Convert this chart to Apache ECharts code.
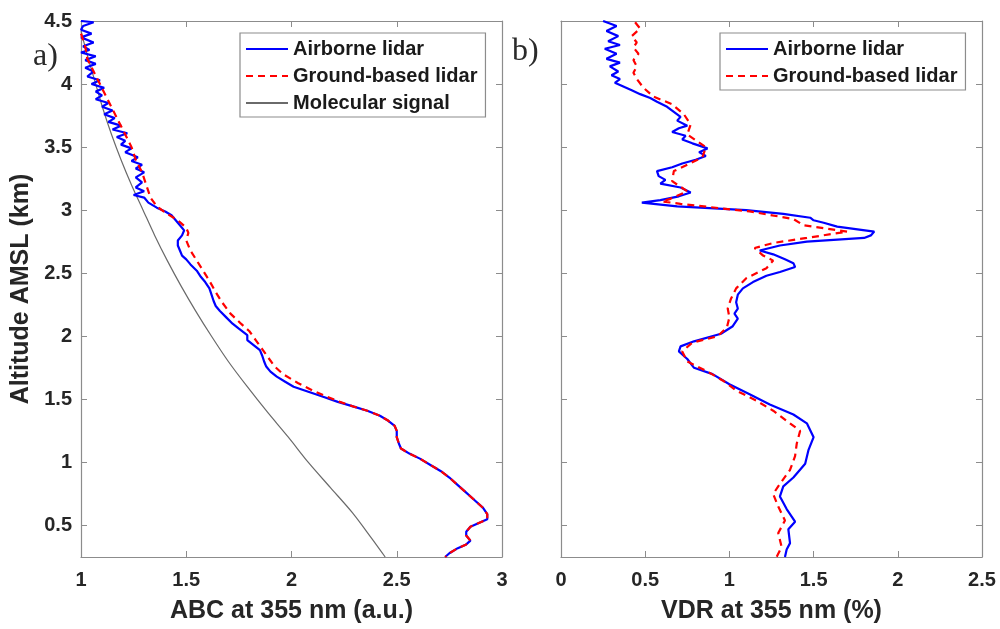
<!DOCTYPE html>
<html>
<head>
<meta charset="utf-8">
<script src="https://cdn.jsdelivr.net/npm/echarts@6/dist/echarts.min.js"></script>
<style>
html,body{margin:0;padding:0;background:#fff;}
#chart{width:1000px;height:629px;}
</style>
</head>
<body>
<div id="chart"></div>
<script>
// Altitude ticks (km)
const altTicks = [0.5, 1, 1.5, 2, 2.5, 3, 3.5, 4, 4.5];

// Panel a) ABC at 355 nm: [value, altitude]
const abcAirborne = [[1.00,4.50],[1.06,4.49],[1.01,4.46],[1.00,4.43],[1.05,4.40],[1.00,4.37],[1.06,4.33],[1.01,4.30],[1.04,4.27],[1.00,4.25],[1.07,4.22],[1.02,4.19],[1.07,4.16],[1.02,4.13],[1.06,4.10],[1.03,4.06],[1.09,4.03],[1.05,4.00],[1.11,3.97],[1.07,3.94],[1.10,3.91],[1.07,3.88],[1.13,3.85],[1.10,3.82],[1.15,3.79],[1.11,3.76],[1.16,3.73],[1.13,3.70],[1.19,3.67],[1.15,3.64],[1.22,3.61],[1.17,3.58],[1.21,3.55],[1.19,3.52],[1.24,3.49],[1.21,3.46],[1.27,3.42],[1.24,3.39],[1.29,3.36],[1.26,3.33],[1.30,3.30],[1.26,3.26],[1.29,3.22],[1.26,3.18],[1.30,3.15],[1.25,3.12],[1.30,3.10],[1.32,3.06],[1.36,3.02],[1.40,2.99],[1.43,2.96],[1.45,2.92],[1.47,2.88],[1.49,2.84],[1.48,2.80],[1.46,2.76],[1.46,2.72],[1.47,2.68],[1.48,2.64],[1.50,2.61],[1.52,2.57],[1.55,2.52],[1.57,2.47],[1.59,2.43],[1.61,2.38],[1.62,2.33],[1.63,2.28],[1.64,2.24],[1.66,2.20],[1.69,2.15],[1.72,2.10],[1.75,2.06],[1.79,2.01],[1.79,1.97],[1.82,1.93],[1.85,1.89],[1.86,1.85],[1.87,1.80],[1.88,1.76],[1.90,1.72],[1.93,1.68],[1.97,1.64],[2.01,1.60],[2.08,1.56],[2.15,1.52],[2.22,1.48],[2.30,1.44],[2.36,1.41],[2.42,1.37],[2.46,1.33],[2.49,1.29],[2.50,1.25],[2.50,1.20],[2.51,1.15],[2.52,1.11],[2.56,1.07],[2.61,1.03],[2.66,0.98],[2.71,0.93],[2.75,0.88],[2.79,0.82],[2.83,0.76],[2.87,0.70],[2.91,0.64],[2.93,0.59],[2.93,0.55],[2.89,0.52],[2.85,0.49],[2.83,0.45],[2.83,0.42],[2.85,0.38],[2.83,0.35],[2.79,0.32],[2.75,0.28],[2.73,0.25]];

const abcGround = [[1.00,4.40],[1.02,4.30],[1.03,4.20],[1.06,4.10],[1.09,4.00],[1.12,3.90],[1.15,3.80],[1.18,3.70],[1.21,3.60],[1.24,3.50],[1.26,3.40],[1.29,3.30],[1.31,3.20],[1.33,3.10],[1.36,3.03],[1.41,2.97],[1.46,2.92],[1.50,2.86],[1.51,2.82],[1.50,2.76],[1.52,2.68],[1.55,2.60],[1.58,2.52],[1.61,2.44],[1.64,2.35],[1.67,2.27],[1.71,2.18],[1.76,2.10],[1.80,2.04],[1.83,1.97],[1.86,1.90],[1.89,1.83],[1.92,1.76],[1.96,1.70],[2.03,1.63],[2.10,1.57],[2.17,1.52],[2.23,1.48],[2.30,1.44],[2.36,1.41],[2.42,1.37],[2.46,1.33],[2.49,1.29],[2.50,1.25],[2.50,1.20],[2.51,1.15],[2.52,1.11],[2.56,1.07],[2.61,1.03],[2.66,0.98],[2.71,0.93],[2.75,0.88],[2.79,0.82],[2.83,0.76],[2.87,0.70],[2.91,0.64],[2.93,0.59],[2.93,0.55],[2.89,0.52],[2.85,0.49],[2.83,0.45],[2.83,0.42],[2.85,0.38],[2.83,0.35],[2.79,0.32],[2.75,0.28],[2.73,0.25]];

const abcMolecular = [[1.00,4.42],[1.035,4.20],[1.07,4.00],[1.105,3.80],[1.145,3.60],[1.19,3.40],[1.24,3.20],[1.295,3.00],[1.35,2.80],[1.41,2.60],[1.475,2.40],[1.545,2.20],[1.62,2.00],[1.70,1.80],[1.79,1.60],[1.885,1.40],[1.985,1.20],[2.08,1.00],[2.185,0.80],[2.29,0.60],[2.38,0.40],[2.445,0.25]];

// Panel b) VDR at 355 nm (%): [value, altitude]
const vdrAirborne = [[0.25,4.50],[0.33,4.46],[0.27,4.42],[0.34,4.38],[0.28,4.34],[0.35,4.31],[0.26,4.28],[0.33,4.24],[0.27,4.20],[0.35,4.17],[0.29,4.14],[0.34,4.10],[0.30,4.07],[0.35,4.04],[0.32,4.01],[0.37,3.98],[0.42,3.95],[0.47,3.92],[0.53,3.89],[0.57,3.86],[0.63,3.82],[0.67,3.78],[0.71,3.74],[0.69,3.71],[0.75,3.67],[0.70,3.65],[0.66,3.62],[0.74,3.59],[0.72,3.56],[0.78,3.53],[0.87,3.49],[0.82,3.46],[0.86,3.43],[0.80,3.40],[0.72,3.37],[0.66,3.34],[0.57,3.31],[0.58,3.27],[0.62,3.24],[0.59,3.21],[0.71,3.18],[0.77,3.14],[0.70,3.11],[0.59,3.08],[0.48,3.06],[0.69,3.03],[1.10,3.00],[1.32,2.97],[1.48,2.94],[1.50,2.92],[1.56,2.90],[1.64,2.87],[1.86,2.83],[1.84,2.80],[1.80,2.78],[1.46,2.75],[1.30,2.72],[1.18,2.68],[1.26,2.65],[1.33,2.61],[1.38,2.58],[1.39,2.55],[1.30,2.51],[1.22,2.48],[1.14,2.43],[1.08,2.38],[1.05,2.33],[1.04,2.27],[1.05,2.22],[1.03,2.18],[1.05,2.14],[1.02,2.08],[0.95,2.02],[0.79,1.96],[0.71,1.92],[0.70,1.88],[0.75,1.82],[0.79,1.75],[0.90,1.70],[1.00,1.62],[1.12,1.54],[1.24,1.46],[1.38,1.38],[1.46,1.31],[1.50,1.20],[1.47,1.10],[1.45,0.99],[1.38,0.88],[1.32,0.81],[1.30,0.73],[1.34,0.63],[1.39,0.53],[1.35,0.47],[1.36,0.36],[1.34,0.31],[1.33,0.25]];

const vdrGround = [[0.44,4.49],[0.47,4.44],[0.42,4.38],[0.45,4.33],[0.43,4.29],[0.46,4.24],[0.43,4.19],[0.45,4.14],[0.43,4.09],[0.45,4.04],[0.49,3.97],[0.55,3.90],[0.66,3.84],[0.73,3.76],[0.77,3.68],[0.75,3.60],[0.86,3.50],[0.84,3.42],[0.75,3.36],[0.67,3.31],[0.66,3.23],[0.75,3.15],[0.65,3.09],[0.60,3.07],[0.71,3.05],[1.12,2.99],[1.38,2.93],[1.44,2.88],[1.70,2.83],[1.46,2.78],[1.26,2.74],[1.15,2.70],[1.20,2.64],[1.26,2.60],[1.22,2.54],[1.10,2.46],[1.04,2.38],[1.01,2.30],[0.99,2.22],[1.00,2.15],[0.985,2.07],[0.93,2.00],[0.78,1.95],[0.72,1.88],[0.75,1.80],[0.87,1.72],[0.96,1.65],[1.04,1.57],[1.16,1.49],[1.26,1.41],[1.34,1.33],[1.42,1.25],[1.40,1.15],[1.39,1.05],[1.36,0.94],[1.30,0.83],[1.26,0.75],[1.29,0.65],[1.33,0.54],[1.29,0.44],[1.31,0.33],[1.28,0.25]];

const FONT = '"Liberation Sans", Arial, Helvetica, sans-serif';
const AX = '#8c8c8c';
const LBL = '#262626';

function xAxisDef(grid, min, max, name, pos, show) {
  return {
    type: 'value', gridIndex: grid, min: min, max: max, interval: 0.5, position: pos,
    name: show ? name : '', nameLocation: 'middle', nameGap: 42,
    nameTextStyle: {fontFamily: FONT, fontWeight: 'bold', fontSize: 25, color: LBL},
    axisLine: {show: true, onZero: false, lineStyle: {color: AX, width: 1.2}},
    axisTick: {show: true, inside: true, length: 6, lineStyle: {color: AX}},
    axisLabel: {show: show, margin: 13, fontFamily: FONT, fontWeight: 'bold', fontSize: 20, color: LBL,
      formatter: v => String(+v.toFixed(2))},
    splitLine: {show: false}
  };
}
function yAxisDef(grid, pos, showLabels, name) {
  return {
    type: 'value', gridIndex: grid, min: 0.25, max: 4.5, position: pos,
    name: name || '', nameLocation: 'middle', nameGap: 47,
    nameTextStyle: {fontFamily: FONT, fontWeight: 'bold', fontSize: 25, color: LBL},
    axisLine: {show: true, onZero: false, lineStyle: {color: AX, width: 1.2}},
    axisTick: {show: true, inside: true, length: 6, lineStyle: {color: AX}, customValues: altTicks},
    axisLabel: {show: showLabels, margin: 9, fontFamily: FONT, fontWeight: 'bold', fontSize: 20, color: LBL,
      customValues: altTicks, formatter: v => String(+v.toFixed(2))},
    splitLine: {show: false}
  };
}

const blueStyle = {color: '#0000ff', width: 2.2};
const redStyle = {color: '#ff0000', width: 2.2, type: [7, 5]};
const grayStyle = {color: '#6a6a6a', width: 1.2};

const legendCommon = {
  orient: 'vertical',
  padding: [6, 8, 4, 5], itemGap: 7, itemWidth: 42, itemHeight: 20,
  borderColor: '#8c8c8c', borderWidth: 1.2, backgroundColor: '#fff',
  selectedMode: false,
  itemStyle: {opacity: 0},
  textStyle: {fontFamily: FONT, fontWeight: 'bold', fontSize: 20, color: '#1a1a1a', lineHeight: 20}
};

const chart = echarts.init(document.getElementById('chart'), null, {renderer: 'canvas'});
chart.setOption({
  animation: false,
  backgroundColor: '#ffffff',
  grid: [
    {left: 81, right: 498, top: 21, bottom: 71},
    {left: 561, right: 18, top: 21, bottom: 71}
  ],
  xAxis: [
    xAxisDef(0, 1, 3, 'ABC at 355 nm (a.u.)', 'bottom', true),
    xAxisDef(1, 0, 2.5, 'VDR at 355 nm (%)', 'bottom', true),
    xAxisDef(0, 1, 3, '', 'top', false),
    xAxisDef(1, 0, 2.5, '', 'top', false)
  ],
  yAxis: [
    yAxisDef(0, 'left', true, 'Altitude AMSL (km)'),
    yAxisDef(1, 'left', false),
    yAxisDef(0, 'right', false),
    yAxisDef(1, 'right', false)
  ],
  legend: [
    Object.assign({}, legendCommon, {left: 240, top: 33, data: ['Airborne lidar', 'Ground-based lidar', 'Molecular signal']}),
    Object.assign({}, legendCommon, {left: 720, top: 33, data: ['Airborne lidar', 'Ground-based lidar']})
  ],
  graphic: [
    {type: 'text', left: 33, top: 41, style: {text: 'a)', font: '32px "Liberation Serif", "Times New Roman", serif', fill: '#2a2a2a'}},
    {type: 'text', left: 512, top: 36, style: {text: 'b)', font: '32px "Liberation Serif", "Times New Roman", serif', fill: '#2a2a2a'}}
  ],
  series: [
    {name: 'Molecular signal', type: 'line', xAxisIndex: 0, yAxisIndex: 0, data: abcMolecular, symbol: 'none', smooth: 0.3, lineStyle: grayStyle, itemStyle: {color: '#6a6a6a'}, z: 1, clip: true},
    {name: 'Airborne lidar', type: 'line', xAxisIndex: 0, yAxisIndex: 0, data: abcAirborne, symbol: 'none', lineStyle: blueStyle, itemStyle: {color: '#0000ff'}, z: 2, clip: true},
    {name: 'Ground-based lidar', type: 'line', xAxisIndex: 0, yAxisIndex: 0, data: abcGround, symbol: 'none', lineStyle: redStyle, itemStyle: {color: '#ff0000'}, z: 3, clip: true},
    {name: 'Airborne lidar', type: 'line', xAxisIndex: 1, yAxisIndex: 1, data: vdrAirborne, symbol: 'none', lineStyle: blueStyle, itemStyle: {color: '#0000ff'}, z: 2, clip: true},
    {name: 'Ground-based lidar', type: 'line', xAxisIndex: 1, yAxisIndex: 1, data: vdrGround, symbol: 'none', lineStyle: redStyle, itemStyle: {color: '#ff0000'}, z: 3, clip: true}
  ]
});
</script>
</body>
</html>
